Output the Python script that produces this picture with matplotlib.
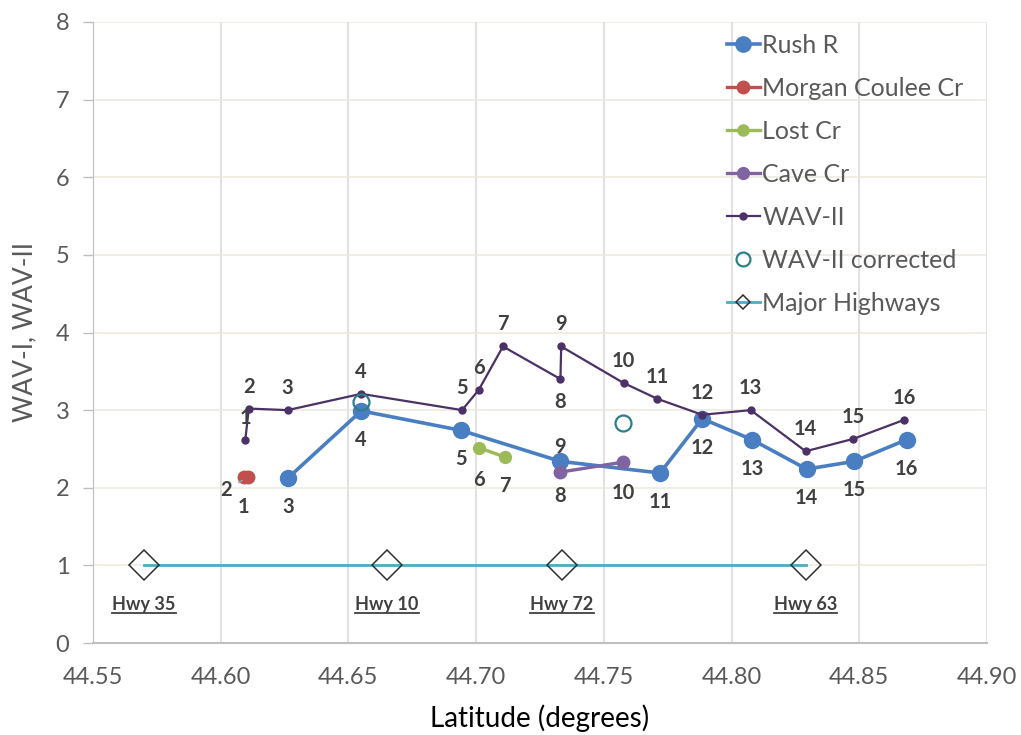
import matplotlib
matplotlib.use("Agg")
import matplotlib.pyplot as plt
from matplotlib.lines import Line2D
from matplotlib.transforms import IdentityTransform

plt.rcParams['font.family'] = ['Lato', 'DejaVu Sans']

# data
rush_lat = [44.6265, 44.655, 44.694, 44.733, 44.772, 44.7885, 44.808, 44.8294, 44.848, 44.8686]
rush_wav = [2.13, 2.99, 2.74, 2.34, 2.19, 2.89, 2.62, 2.24, 2.34, 2.62]
rush_site = ['3', '4', '5', '9', '11', '12', '13', '14', '15', '16']

morgan_lat = [44.609, 44.6108]
morgan_wav = [2.14, 2.14]
morgan_site = ['1', '2']

lost_lat = [44.7012, 44.7113]
lost_wav = [2.515, 2.395]
lost_site = ['6', '7']

cave_lat = [44.7327, 44.7575]
cave_wav = [2.20, 2.33]
cave_site = ['8', '10']

wav2_lat = [44.6096, 44.611, 44.6262, 44.655, 44.6945, 44.701, 44.7105, 44.733,
            44.7333, 44.7577, 44.771, 44.7885, 44.8075, 44.829, 44.8477, 44.8676]
wav2_val = [2.61, 3.02, 3.00, 3.21, 3.00, 3.26, 3.82, 3.40,
            3.82, 3.35, 3.145, 2.94, 3.00, 2.47, 2.63, 2.875]
wav2_site = [str(i) for i in range(1, 17)]

corr_lat = [44.655, 44.7573]
corr_val = [3.10, 2.83]

hwy_lat = [44.5699, 44.6651, 44.7336, 44.829]
hwy_val = [1, 1, 1, 1]
hwy_name = ['Hwy 35', 'Hwy 10', 'Hwy 72', 'Hwy 63']

xticks = [44.55, 44.60, 44.65, 44.70, 44.75, 44.80, 44.85, 44.90]
yticks = [0, 1, 2, 3, 4, 5, 6, 7, 8]

# label placement (pixel offsets from the point)
rush_off = [(0, -29)] * 10
rush_off[3] = (0, 14)
morgan_off = [(0, -30), (-22, -13)]
lost_off = [(0, -32), (0, -29)]
cave_off = [(0, -24), (0, -31)]
wav2_off = [(0, 22)] * 16
wav2_off[7] = (0, -23)

blue = '#4A7EC2'
red = '#C0504D'
green = '#9BBB59'
purple = '#8064A2'
dark = '#4B3166'
teal = '#2E7F8C'
hwy_col = '#4BACC6'
txt = '#404040'

fig = plt.figure(figsize=(10.21, 7.35), dpi=100)
ax = fig.add_axes([93 / 1021, 1 - 643 / 735, (987 - 93) / 1021, (643 - 22) / 735])

ax.plot(rush_lat, rush_wav, color=blue, lw=2.6, marker='o', ms=11.5, label='Rush R', zorder=3)
ax.plot(morgan_lat, morgan_wav, color=red, lw=2.4, marker='o', ms=9, label='Morgan Coulee Cr', zorder=3)
ax.plot(lost_lat, lost_wav, color=green, lw=2.4, marker='o', ms=8.5, label='Lost Cr', zorder=3)
ax.plot(cave_lat, cave_wav, color=purple, lw=2.4, marker='o', ms=9, label='Cave Cr', zorder=3)
ax.plot(wav2_lat, wav2_val, color=dark, lw=1.6, marker='o', ms=5, label='WAV-II', zorder=4)
ax.plot(corr_lat, corr_val, ls='none', marker='o', ms=11.5, mfc='none', mec=teal, mew=1.6,
        label='WAV-II corrected', zorder=5)
ax.plot(hwy_lat, hwy_val, color=hwy_col, lw=2, marker='D', ms=15, mfc='none', mec='#303030',
        mew=1.1, label='Major Highways', zorder=3)


def add_labels(xs, ys, names, offs):
    for x, y, s, (dx, dy) in zip(xs, ys, names, offs):
        ax.annotate(s, (x, y), xytext=(dx * 0.72, dy * 0.72), textcoords='offset points',
                    ha='center', va='center', fontsize=14.5, fontweight='bold', color=txt, zorder=6)


add_labels(rush_lat, rush_wav, rush_site, rush_off)
add_labels(morgan_lat[:1], morgan_wav[:1], morgan_site[:1], morgan_off[:1])
add_labels(lost_lat, lost_wav, lost_site, lost_off)
add_labels(cave_lat, cave_wav, cave_site, cave_off)
add_labels(wav2_lat, wav2_val, wav2_site, wav2_off)

# label "2" of Morgan Coulee sits off to the left with a leader line
dx, dy = morgan_off[1]
ax.annotate(morgan_site[1], (morgan_lat[1], morgan_wav[1]), xytext=(dx * 0.72, dy * 0.72),
            textcoords='offset points', ha='center', va='center', fontsize=14.5,
            fontweight='bold', color=txt, zorder=6,
            arrowprops=dict(arrowstyle='-', color='#a6a6a6', lw=1, shrinkA=3, shrinkB=5))

hwy_texts = []
for x, name in zip(hwy_lat, hwy_name):
    t = ax.text(x, 0.43, name, ha='center', va='baseline', fontsize=13,
                fontweight='bold', color=txt, zorder=6)
    hwy_texts.append(t)

ax.set_xlim(44.55, 44.90)
ax.set_ylim(0, 8)
ax.set_xticks(xticks)
ax.set_xticklabels([f'{v:.2f}' for v in xticks])
ax.set_yticks(yticks)
ax.tick_params(axis='x', length=0, pad=17, labelsize=17, labelcolor='#595959')
ax.tick_params(axis='y', length=7, width=1, color='#bfbfbf', pad=10, labelsize=17,
               labelcolor='#595959')

ax.xaxis.grid(True, color='#d9d9d9', lw=1.1)
ax.yaxis.grid(True, color='#ebe8dc', lw=1.1)
ax.set_axisbelow(True)
for s in ['top', 'right']:
    ax.spines[s].set_visible(False)
ax.spines['left'].set_color('#bfbfbf')
ax.spines['bottom'].set_color('#bfbfbf')
ax.spines['bottom'].set_linewidth(1.5)

ax.set_ylabel('WAV-I, WAV-II', fontsize=19, color='#595959', labelpad=13)
ax.set_xlabel('Latitude (degrees)', fontsize=20, color='#000000', labelpad=12)

leg = ax.legend(loc='upper left', bbox_to_anchor=(727 / 1021, 1 - 34 / 735),
                bbox_transform=fig.transFigure, frameon=False, fontsize=18,
                labelcolor='#595959', borderpad=0, borderaxespad=0,
                handlelength=1.3, handletextpad=0.12, labelspacing=0.8)
for h, ms in zip(leg.legend_handles, [11, 9, 8, 8.5, 5, 10, 7]):
    h.set_markersize(ms)

# underline the highway names
fig.canvas.draw()
renderer = fig.canvas.get_renderer()
for t in hwy_texts:
    bb = t.get_window_extent(renderer)
    base = ax.transData.transform((t.get_position()[0], 0.43))[1]
    fig.add_artist(Line2D([bb.x0, bb.x1], [base - 3, base - 3], transform=IdentityTransform(),
                          color=txt, lw=1.3))

fig.savefig('out.png', dpi=100)
